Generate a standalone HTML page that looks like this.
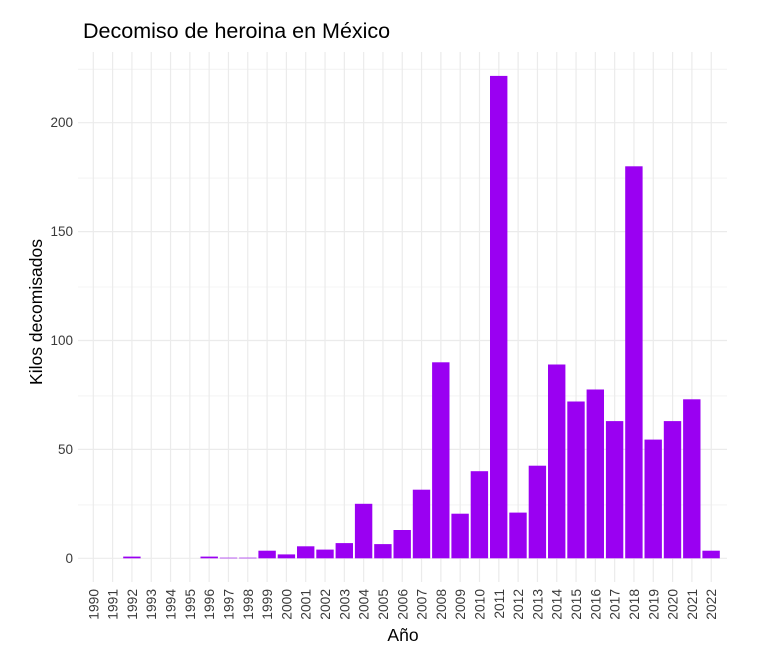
<!DOCTYPE html>
<html><head><meta charset="utf-8"><style>body{margin:0;background:#fff}svg{display:block}</style></head><body>
<svg width="764" height="656" xmlns="http://www.w3.org/2000/svg" font-family="Liberation Sans, Arial, sans-serif">
<rect width="764" height="656" fill="#fff"/>
<g stroke="#ebebeb" stroke-width="0.6">
<line x1="78" x2="727" y1="504.9" y2="504.9"/><line x1="78" x2="727" y1="395.9" y2="395.9"/><line x1="78" x2="727" y1="287.0" y2="287.0"/><line x1="78" x2="727" y1="178.1" y2="178.1"/><line x1="78" x2="727" y1="69.2" y2="69.2"/>
</g>
<g stroke="#ebebeb" stroke-width="1.2">
<line x1="78" x2="727" y1="558.3" y2="558.3"/><line x1="78" x2="727" y1="449.4" y2="449.4"/><line x1="78" x2="727" y1="340.5" y2="340.5"/><line x1="78" x2="727" y1="231.6" y2="231.6"/><line x1="78" x2="727" y1="122.7" y2="122.7"/>
</g>
<g id="vg" stroke="#ebebeb" stroke-width="1.2"></g>
<g fill="#9a00f2" transform="translate(0,558.3) scale(1,-1)">
<rect x="123.2" y="0" width="17.4" height="1.7"/>
<rect x="200.5" y="0" width="17.4" height="1.7"/>
<rect x="219.8" y="0" width="17.4" height="0.6"/>
<rect x="239.1" y="0" width="17.4" height="0.6"/>
<rect x="258.4" y="0" width="17.4" height="7.6"/>
<rect x="277.7" y="0" width="17.4" height="3.9"/>
<rect x="297.0" y="0" width="17.4" height="12"/>
<rect x="316.3" y="0" width="17.4" height="8.7"/>
<rect x="335.6" y="0" width="17.4" height="15.2"/>
<rect x="354.9" y="0" width="17.4" height="54.5"/>
<rect x="374.2" y="0" width="17.4" height="14.2"/>
<rect x="393.5" y="0" width="17.4" height="28.3"/>
<rect x="412.8" y="0" width="17.4" height="68.6"/>
<rect x="432.1" y="0" width="17.4" height="196"/>
<rect x="451.4" y="0" width="17.4" height="44.6"/>
<rect x="470.7" y="0" width="17.4" height="87.1"/>
<rect x="490.0" y="0" width="17.4" height="482.4"/>
<rect x="509.3" y="0" width="17.4" height="45.7"/>
<rect x="528.7" y="0" width="17.4" height="92.6"/>
<rect x="548.0" y="0" width="17.4" height="193.8"/>
<rect x="567.3" y="0" width="17.4" height="156.8"/>
<rect x="586.6" y="0" width="17.4" height="168.8"/>
<rect x="605.9" y="0" width="17.4" height="137.2"/>
<rect x="625.2" y="0" width="17.4" height="392"/>
<rect x="644.5" y="0" width="17.4" height="118.7"/>
<rect x="663.8" y="0" width="17.4" height="137.2"/>
<rect x="683.1" y="0" width="17.4" height="159"/>
<rect x="702.4" y="0" width="17.4" height="7.6"/>
</g>
<g font-size="13.5" fill="#3a3a3a" text-anchor="end">
<text x="73" y="563">0</text><text x="73" y="454">50</text><text x="73" y="345">100</text><text x="73" y="236">150</text><text x="73" y="127">200</text>
</g>
<g id="xl" font-size="13.8" fill="#3a3a3a" text-anchor="end"></g>
<text x="83" y="38" font-size="21.5" fill="#000">Decomiso de heroina en México</text>
<text x="403" y="641" font-size="17.5" fill="#000" text-anchor="middle">Año</text>
<text transform="translate(42,312) rotate(-90)" font-size="17.5" fill="#000" text-anchor="middle">Kilos decomisados</text>
<script>
var vg=document.getElementById('vg'),xl=document.getElementById('xl'),ns='http://www.w3.org/2000/svg';
for(var i=0;i<=32;i++){var x=93.3+i*19.31;
var l=document.createElementNS(ns,'line');l.setAttribute('x1',x);l.setAttribute('x2',x);l.setAttribute('y1',52);l.setAttribute('y2',582);vg.appendChild(l);
var t=document.createElementNS(ns,'text');t.setAttribute('transform','translate('+(x+5)+',589) rotate(-90)');t.textContent=1990+i;xl.appendChild(t);}
</script>
</svg>
</body></html>
